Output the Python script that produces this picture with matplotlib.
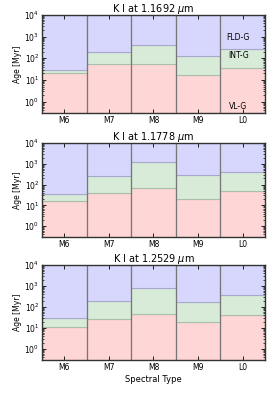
import matplotlib
matplotlib.use("Agg")
import matplotlib.pyplot as plt
import numpy as np

spt = ["M6", "M7", "M8", "M9", "L0"]
titles = [r"K I at 1.1692 $\mu$m", r"K I at 1.1778 $\mu$m",
          r"K I at 1.2529 $\mu$m"]
# upper age limit of the VL-G (red) and INT-G (green) zones, Myr
vlg_top = [[22, 55, 55, 17, 37],
           [17, 40, 68, 20, 48],
           [11, 27, 47, 19, 40]]
intg_top = [[28, 200, 400, 130, 280],
            [35, 260, 1250, 290, 400],
            [30, 190, 800, 175, 370]]
age_max = 1e4
age_min = 0.3

plt.rcParams["font.family"] = "DejaVu Sans"
fig = plt.figure(figsize=(2.78, 4.01), dpi=100)
boxes = [[0.151, 0.718, 0.802, 0.245],
         [0.151, 0.409, 0.802, 0.234],
         [0.151, 0.102, 0.802, 0.237]]

x = np.arange(len(spt))
for i in range(3):
    ax = fig.add_axes(boxes[i])
    red = np.array(vlg_top[i])
    green = np.array(intg_top[i])
    ax.bar(x, red - age_min, bottom=age_min, width=1.0, color="#ffd6d6",
           edgecolor="#c9a9a9", linewidth=0.8)
    ax.bar(x, green - red, bottom=red, width=1.0, color="#d8ebd8",
           edgecolor="#a8bfa8", linewidth=0.8)
    ax.bar(x, age_max - green, bottom=green, width=1.0, color="#d7d7fd",
           edgecolor="#a8a8cf", linewidth=0.8)
    for xv in x[1:] - 0.5:
        ax.axvline(xv, color="#777777", linewidth=0.9)
    ax.set_yscale("log")
    ax.set_ylim(age_min, age_max)
    ax.set_xlim(-0.5, len(spt) - 0.5)
    ax.set_xticks(x)
    ax.set_xticklabels(spt)
    ax.set_yticks([1, 10, 100, 1000, 10000])
    ax.tick_params(axis="both", which="both", direction="in", top=True,
                   right=True, labelsize=5.5, pad=2)
    ax.tick_params(which="major", length=3, width=0.6)
    ax.tick_params(which="minor", length=1.5, width=0.5)
    ax.tick_params(axis="x", which="minor", bottom=False, top=False)
    for s in ax.spines.values():
        s.set_linewidth(1.0)
        s.set_color("#333333")
    ax.set_ylabel("Age [Myr]", fontsize=5.5, labelpad=2)
    ax.set_title(titles[i], fontsize=7, pad=2)
    if i == 0:
        ax.text(3.9, 900, "FLD-G", fontsize=5.5, ha="center", va="center")
        ax.text(3.9, 140, "INT-G", fontsize=5.5, ha="center", va="center")
        ax.text(3.9, 0.6, "VL-G", fontsize=5.5, ha="center", va="center")
    if i == 2:
        ax.set_xlabel("Spectral Type", fontsize=6, labelpad=2)

fig.savefig("out.png", dpi=100)
